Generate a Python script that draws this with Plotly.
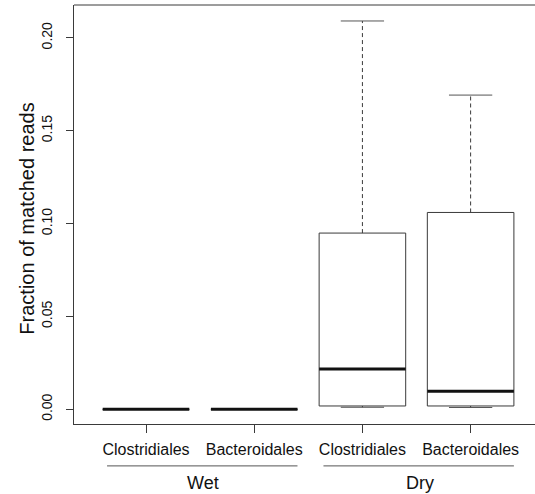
import plotly.graph_objects as go

# ---- data ----
categories = ["Clostridiales", "Bacteroidales", "Clostridiales", "Bacteroidales"]
groups = ["Wet", "Dry"]
group_members = [[1, 2], [3, 4]]
positions = [1, 2, 3, 4]
whisker_low = [0.0, 0.0, 0.0011, 0.0010]
q1 = [0.0, 0.0, 0.0018, 0.0018]
median = [0.0, 0.0, 0.0217, 0.0098]
q3 = [0.0, 0.0, 0.0949, 0.1060]
whisker_high = [0.0, 0.0, 0.2091, 0.1692]
y_ticks = [0.0, 0.05, 0.10, 0.15, 0.20]
y_ticklabels = ["0.00", "0.05", "0.10", "0.15", "0.20"]

# ---- style ----
half_box = 0.4
half_staple = 0.2
line_col = "#3a3a3a"
font_family = "Liberation Sans, Arial, sans-serif"

box_x, box_y = [], []
med_x, med_y = [], []
wh_x, wh_y = [], []
st_x, st_y = [], []
for p, lo, a, m, b, hi in zip(positions, whisker_low, q1, median, q3, whisker_high):
    box_x += [p - half_box, p + half_box, p + half_box, p - half_box, p - half_box, None]
    box_y += [a, a, b, b, a, None]
    med_x += [p - half_box, p + half_box, None]
    med_y += [m, m, None]
    wh_x += [p, p, None, p, p, None]
    wh_y += [b, hi, None, a, lo, None]
    st_x += [p - half_staple, p + half_staple, None, p - half_staple, p + half_staple, None]
    st_y += [hi, hi, None, lo, lo, None]

fig = go.Figure()
fig.add_trace(go.Scatter(x=wh_x, y=wh_y, mode="lines",
                         line=dict(color=line_col, width=1, dash="4px,3px"),
                         hoverinfo="skip", showlegend=False))
fig.add_trace(go.Scatter(x=st_x, y=st_y, mode="lines",
                         line=dict(color="#555555", width=1),
                         hoverinfo="skip", showlegend=False))
fig.add_trace(go.Scatter(x=box_x, y=box_y, mode="lines",
                         line=dict(color=line_col, width=1),
                         hoverinfo="skip", showlegend=False))
fig.add_trace(go.Scatter(x=med_x, y=med_y, mode="lines",
                         line=dict(color="#111111", width=3),
                         hoverinfo="skip", showlegend=False))

# group lines and labels
for g, members in zip(groups, group_members):
    x0 = min(members) - 0.36
    x1 = max(members) + 0.40
    fig.add_shape(type="line", xref="x", yref="paper", x0=x0, x1=x1,
                  y0=-0.1, y1=-0.1, line=dict(color="#555555", width=1))
    fig.add_annotation(x=sum(members) / len(members) + 0.03, xref="x", y=-0.142, yref="paper",
                       text=g, showarrow=False, yanchor="middle",
                       font=dict(family=font_family, size=18, color="#111111"))

# top border of the plot box
fig.add_shape(type="line", xref="paper", yref="paper", x0=0, x1=1, y0=1, y1=1,
              line=dict(color=line_col, width=1))

# y-axis title
fig.add_annotation(x=-0.102, xref="paper", y=0.49, yref="paper",
                   text="Fraction of matched reads", textangle=-90, showarrow=False,
                   xanchor="center", yanchor="middle",
                   font=dict(family=font_family, size=20, color="#111111"))

fig.update_layout(
    width=535, height=494,
    margin=dict(l=74, r=0, t=5, b=70),
    paper_bgcolor="white", plot_bgcolor="white",
    font=dict(family=font_family, color="#111111"),
    xaxis=dict(range=[0.3346, 4.595], tickvals=positions, ticktext=categories,
               showgrid=False, zeroline=False, showline=True, linecolor=line_col,
               ticks="outside", ticklen=8, tickcolor=line_col,
               ticklabelstandoff=3,
               tickfont=dict(size=16, family=font_family, color="#111111")),
    yaxis=dict(range=[-0.0079, 0.2177], tickvals=y_ticks, ticktext=y_ticklabels,
               tickangle=-90, showgrid=False, zeroline=False, showline=True,
               linecolor=line_col, ticks="outside", ticklen=7, tickcolor=line_col,
               ticklabelstandoff=8,
               tickfont=dict(size=14, family=font_family, color="#111111")),
)

fig.write_html("out.html")
